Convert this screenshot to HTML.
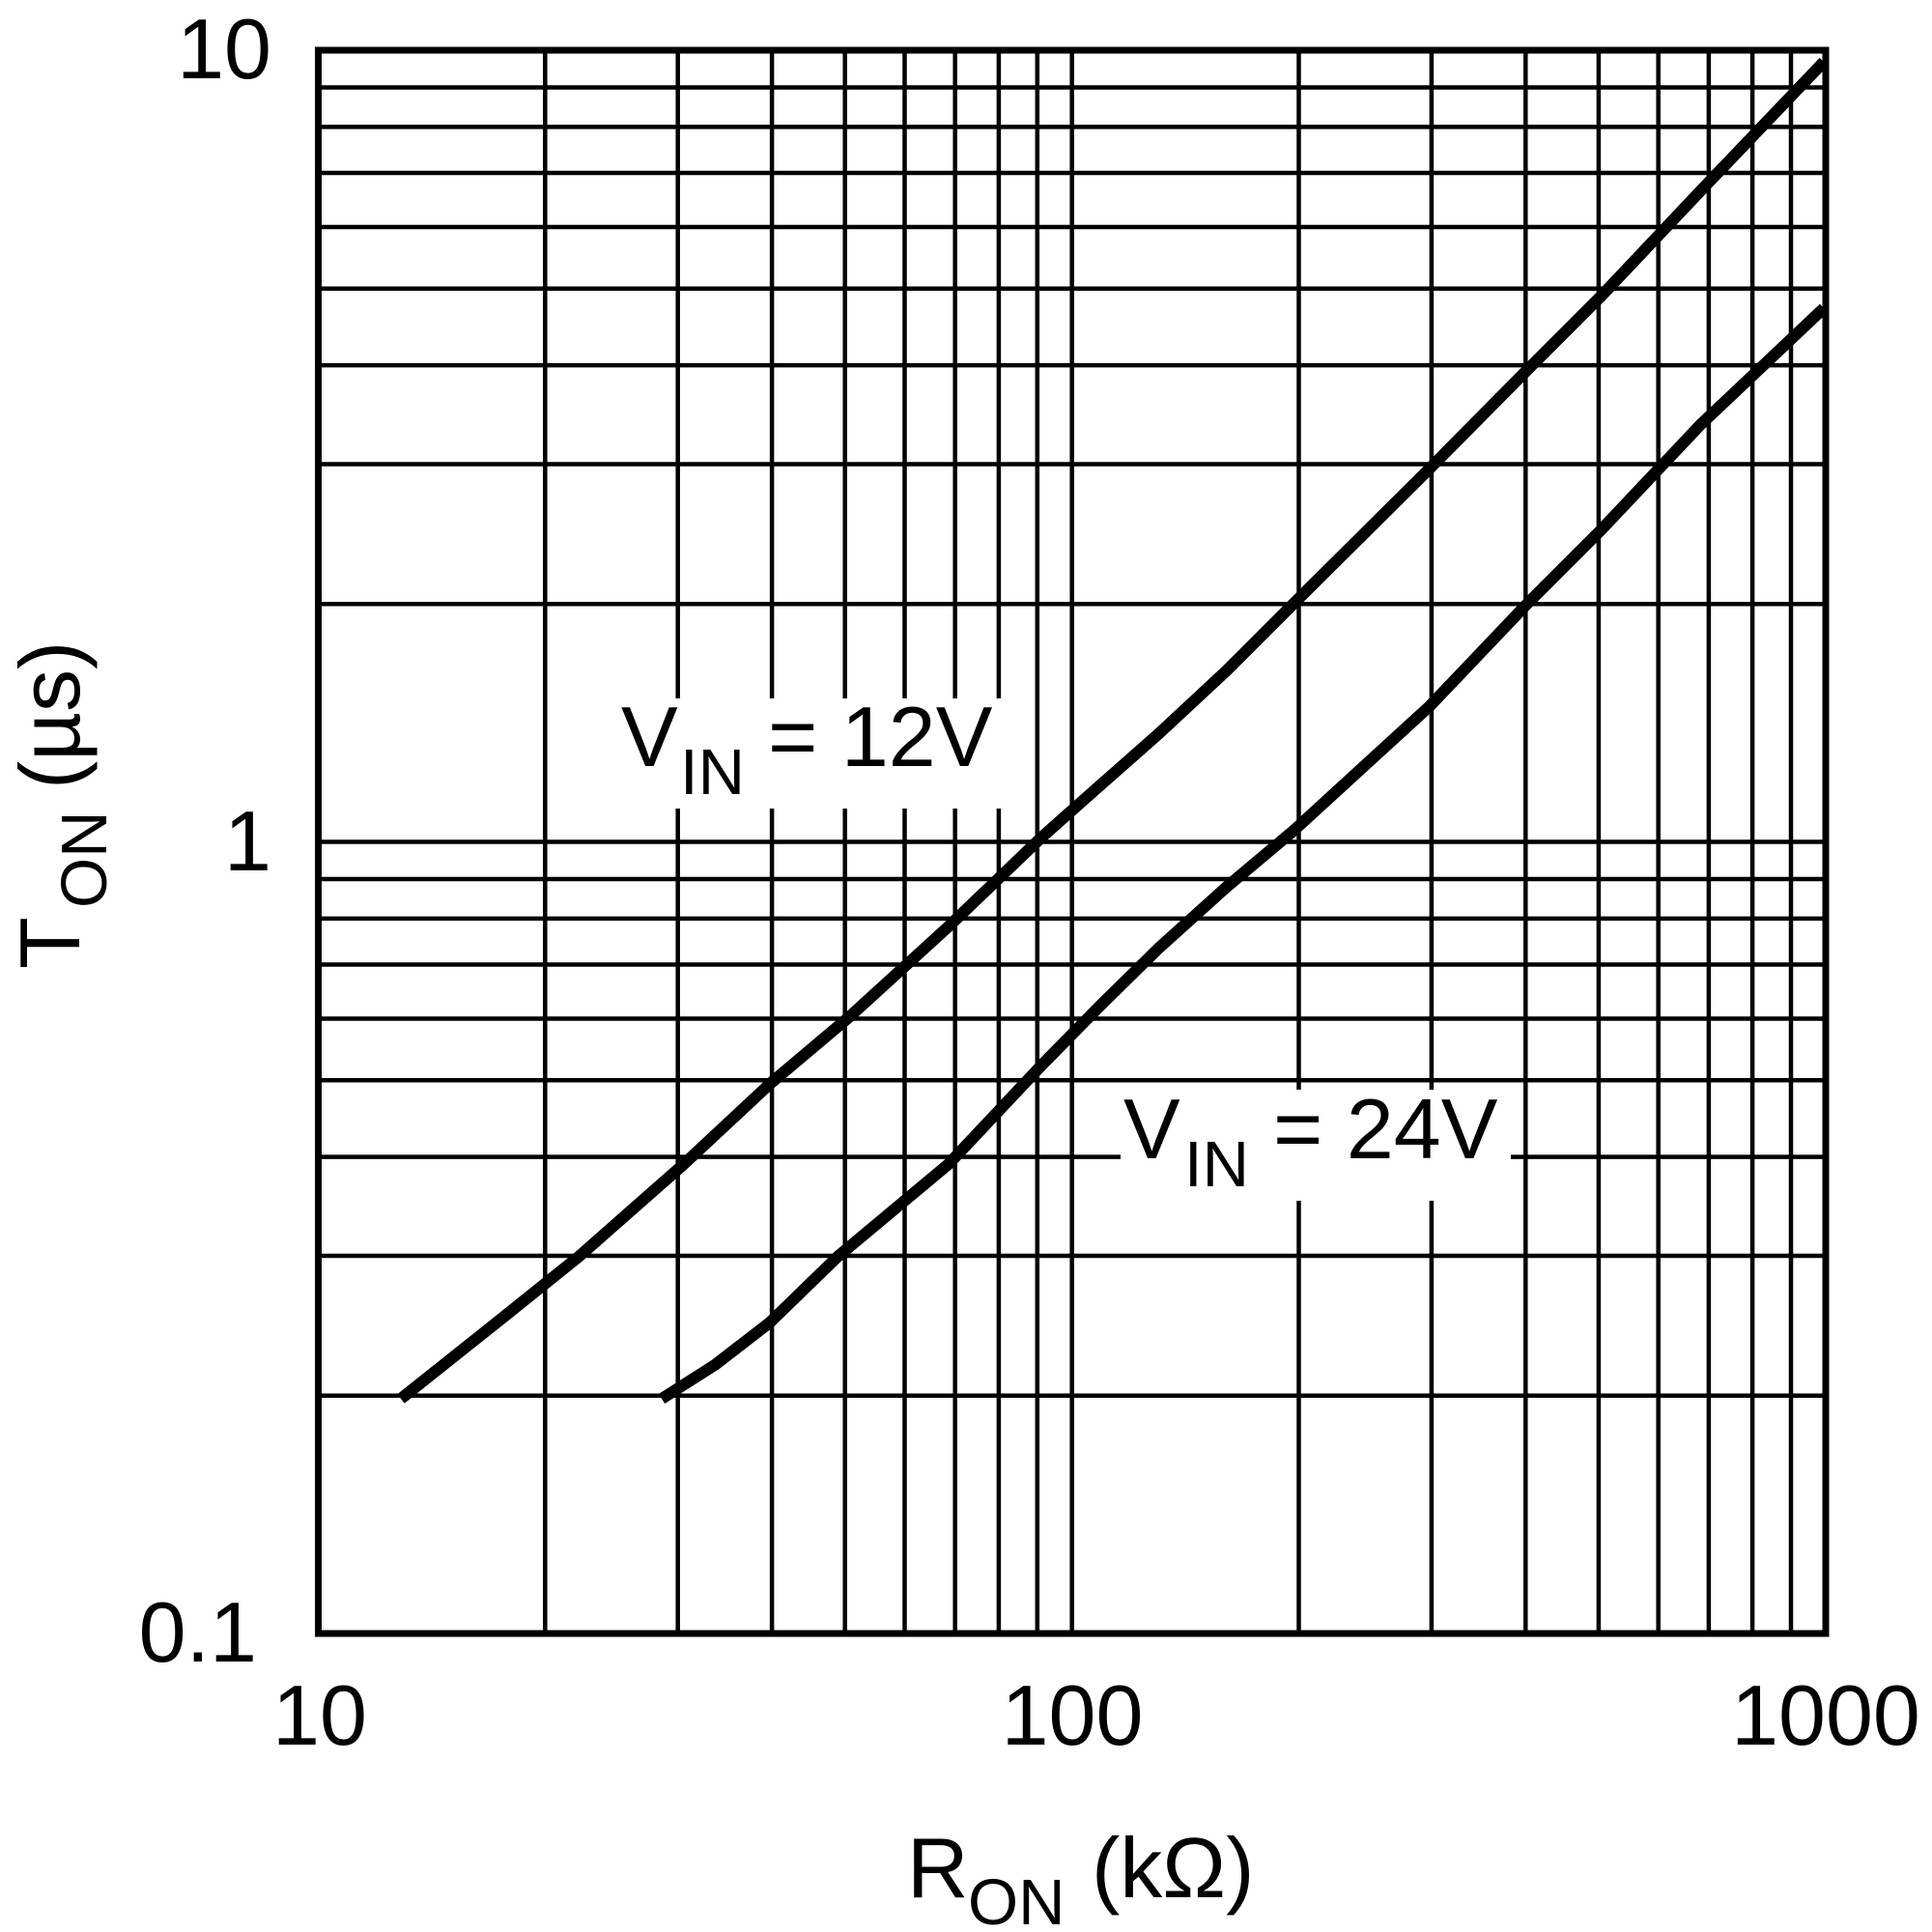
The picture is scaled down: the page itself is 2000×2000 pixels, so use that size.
<!DOCTYPE html>
<html><head><meta charset="utf-8"><style>
html,body{margin:0;padding:0;background:#fff;}
svg{display:block;}
text{font-family:"Liberation Sans",Arial,sans-serif;fill:#000;}
</style></head><body>
<svg width="2000" height="2000" viewBox="0 0 2000 2000" xmlns="http://www.w3.org/2000/svg">
<g stroke="#000" stroke-width="4.5" fill="none">
<line x1="564.3" y1="52" x2="564.3" y2="1691"/>
<line x1="701.7" y1="52" x2="701.7" y2="1691"/>
<line x1="799.1" y1="52" x2="799.1" y2="1691"/>
<line x1="874.7" y1="52" x2="874.7" y2="1691"/>
<line x1="936.5" y1="52" x2="936.5" y2="1691"/>
<line x1="988.7" y1="52" x2="988.7" y2="1691"/>
<line x1="1033.9" y1="52" x2="1033.9" y2="1691"/>
<line x1="1073.8" y1="52" x2="1073.8" y2="1691"/>
<line x1="1109.7" y1="52" x2="1109.7" y2="1691"/>
<line x1="1344.5" y1="52" x2="1344.5" y2="1691"/>
<line x1="1481.9" y1="52" x2="1481.9" y2="1691"/>
<line x1="1579.3" y1="52" x2="1579.3" y2="1691"/>
<line x1="1654.9" y1="52" x2="1654.9" y2="1691"/>
<line x1="1716.7" y1="52" x2="1716.7" y2="1691"/>
<line x1="1768.9" y1="52" x2="1768.9" y2="1691"/>
<line x1="1814.1" y1="52" x2="1814.1" y2="1691"/>
<line x1="1854.0" y1="52" x2="1854.0" y2="1691"/>
<line x1="329.5" y1="90.5" x2="1890" y2="90.5"/>
<line x1="329.5" y1="131.4" x2="1890" y2="131.4"/>
<line x1="329.5" y1="179.0" x2="1890" y2="179.0"/>
<line x1="329.5" y1="235.0" x2="1890" y2="235.0"/>
<line x1="329.5" y1="298.7" x2="1890" y2="298.7"/>
<line x1="329.5" y1="378.1" x2="1890" y2="378.1"/>
<line x1="329.5" y1="480.5" x2="1890" y2="480.5"/>
<line x1="329.5" y1="625.2" x2="1890" y2="625.2"/>
<line x1="329.5" y1="871.5" x2="1890" y2="871.5"/>
<line x1="329.5" y1="910.0" x2="1890" y2="910.0"/>
<line x1="329.5" y1="950.9" x2="1890" y2="950.9"/>
<line x1="329.5" y1="998.5" x2="1890" y2="998.5"/>
<line x1="329.5" y1="1054.5" x2="1890" y2="1054.5"/>
<line x1="329.5" y1="1118.2" x2="1890" y2="1118.2"/>
<line x1="329.5" y1="1197.6" x2="1890" y2="1197.6"/>
<line x1="329.5" y1="1300.0" x2="1890" y2="1300.0"/>
<line x1="329.5" y1="1444.7" x2="1890" y2="1444.7"/>
</g>
<rect x="622" y="723" width="424" height="114" fill="#fff"/>
<rect x="1160" y="1128" width="404" height="115" fill="#fff"/>
<rect x="329.5" y="52" width="1560.5" height="1639" fill="none" stroke="#000" stroke-width="7"/>
<g stroke="#000" stroke-width="12" fill="none" stroke-linejoin="round">
<polyline points="415,1448 523,1362 599,1301 708,1205 797,1122 880,1052 982,959 1078,867 1140,812 1199,760 1270,694 1339,625 1480,485 1581,383 1658,306 1760,198 1888,64"/>
<polyline points="685,1448 740,1413 797,1369 867,1301 982,1205 1078,1103 1140,1040 1199,982 1270,918 1339,860 1410,795 1480,731 1581,625 1658,548 1760,440 1888,319"/>
</g>
<text x="643" y="793" font-size="88">V</text>
<text x="704" y="822" font-size="67">IN</text>
<text x="795" y="793" font-size="88">= 12V</text>
<text x="1163" y="1199" font-size="88">V</text>
<text x="1226" y="1228" font-size="67">IN</text>
<text x="1318" y="1199" font-size="88">= 24V</text>
<text x="281" y="81" font-size="88" text-anchor="end">10</text>
<text x="281" y="901" font-size="88" text-anchor="end">1</text>
<text x="266" y="1720" font-size="88" text-anchor="end">0.1</text>
<text x="331" y="1806" font-size="88" text-anchor="middle">10</text>
<text x="1110" y="1806" font-size="88" text-anchor="middle">100</text>
<text x="1890" y="1806" font-size="88" text-anchor="middle">1000</text>
<text x="939" y="1964" font-size="88">R</text>
<text x="1002" y="1992" font-size="67">ON</text>
<text x="1130" y="1964" font-size="88">(kΩ)</text>
<g transform="translate(82,1003) rotate(-90)">
<text x="0" y="0" font-size="88">T</text>
<text x="63" y="28" font-size="67">ON</text>
<text x="186" y="0" font-size="88">(µs)</text>
</g>
</svg>
</body></html>
